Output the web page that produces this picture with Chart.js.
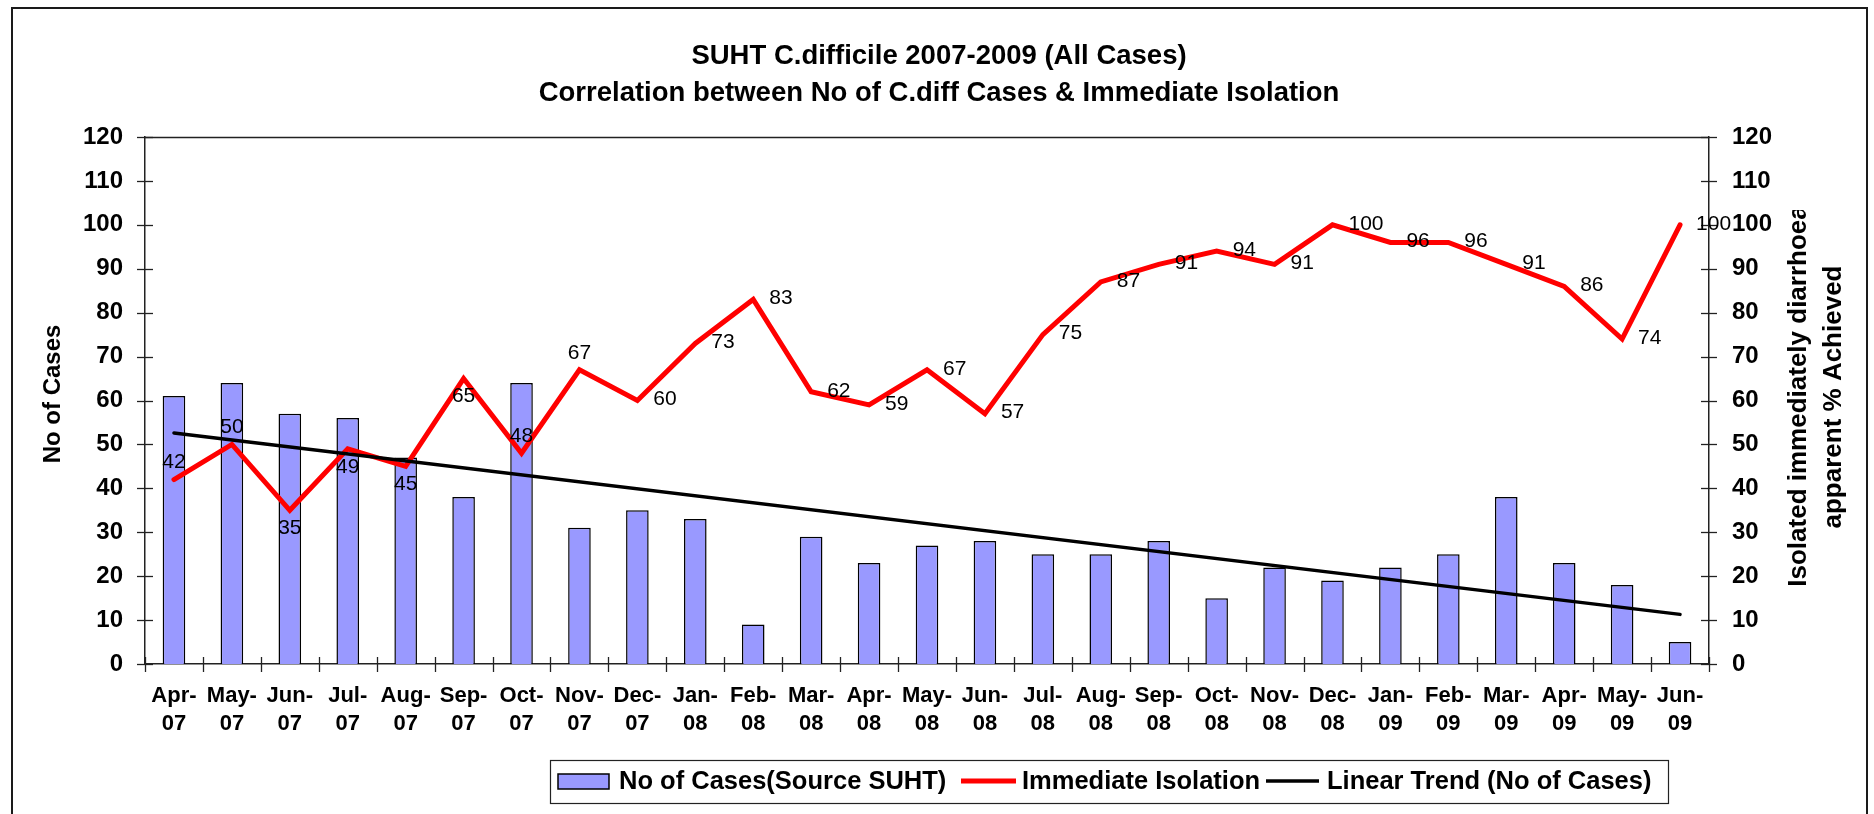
<!DOCTYPE html>
<html>
<head>
<meta charset="utf-8">
<script src="https://cdn.jsdelivr.net/npm/chart.js@4.4.1/dist/chart.umd.min.js"></script>
<style>
html,body{margin:0;padding:0;background:#fff;overflow:hidden}
#wrap{width:1874px;height:814px;position:relative}
canvas{display:block}
</style>
</head>
<body>
<div id="wrap"><canvas id="c" width="1874" height="814"></canvas></div>
<script>
// ---------- data ----------
const categories = ['Apr-07','May-07','Jun-07','Jul-07','Aug-07','Sep-07','Oct-07','Nov-07','Dec-07',
  'Jan-08','Feb-08','Mar-08','Apr-08','May-08','Jun-08','Jul-08','Aug-08','Sep-08','Oct-08','Nov-08','Dec-08',
  'Jan-09','Feb-09','Mar-09','Apr-09','May-09','Jun-09'];
const casesSUHT = [61,64,57,56,47,38,64,31,35,33,9,29,23,27,28,25,25,28,15,22,19,22,25,38,23,18,5];
const immediateIsolation = [42,50,35,49,45,65,48,67,60,73,83,62,59,67,57,75,87,91,94,91,100,96,96,91,86,74,100];
const trendStart = 52.6;   // linear trend value at Apr-07
const trendEnd = 11.3;     // linear trend value at Jun-09
const yTickValues = [0,10,20,30,40,50,60,70,80,90,100,110,120];
const titleLines = ['SUHT C.difficile 2007-2009 (All Cases)', 'Correlation between No of C.diff Cases & Immediate Isolation'];
const leftAxisTitle = 'No of Cases';
const rightAxisTitle = ['Isolated immediately diarrhoea', 'apparent % Achieved'];
const seriesNames = ['No of Cases(Source SUHT)', 'Immediate Isolation', 'Linear Trend (No of Cases)'];
const labelPlacement = ['above','above','below','below','below','below','above','above',
  'right','right','right','right','right','right','right','right','right','right','right','right','right',
  'right','right','right','right','right','right'];

// ---------- setup ----------
const FONT = "'Liberation Sans', Arial, Helvetica, sans-serif";
Chart.defaults.font.family = FONT;
const n = categories.length;
const trend = categories.map((_, i) => i === 0 ? trendStart : (i === n - 1 ? trendEnd : null));
const AXIS = '#222';

function seg(ctx, x1, y1, x2, y2) {
  ctx.beginPath(); ctx.moveTo(x1, y1); ctx.lineTo(x2, y2); ctx.stroke();
}

const decor = {
  id: 'decor',
  beforeDraw(chart) {
    const ctx = chart.ctx;
    ctx.save();
    ctx.fillStyle = '#fff';
    ctx.fillRect(0, 0, chart.width, chart.height);
    ctx.strokeStyle = '#1a1a1a';
    ctx.lineWidth = 2;
    ctx.strokeRect(12, 8, 1855, 900);
    ctx.restore();
  },
  afterDraw(chart) {
    const ctx = chart.ctx;
    const ca = chart.chartArea;
    const ys = chart.scales.y, y2 = chart.scales.y2, xs = chart.scales.x;
    ctx.save();

    // plot top line + cross ticks
    ctx.strokeStyle = AXIS;
    ctx.lineWidth = 1.3;
    seg(ctx, ca.left, Math.round(ca.top) + 0.5, ca.right, Math.round(ca.top) + 0.5);
    yTickValues.forEach(v => {
      const p1 = Math.round(ys.getPixelForValue(v)) + 0.5;
      seg(ctx, ca.left - 8, p1, ca.left + 8, p1);
      const p2 = Math.round(y2.getPixelForValue(v)) + 0.5;
      seg(ctx, ca.right - 8, p2, ca.right + 8, p2);
    });
    for (let i = 0; i <= n; i++) {
      let px;
      if (i === 0) px = ca.left;
      else if (i === n) px = ca.right;
      else px = (xs.getPixelForValue(i - 1) + xs.getPixelForValue(i)) / 2;
      px = Math.round(px) + 0.5;
      seg(ctx, px, ca.bottom - 7, px, ca.bottom + 8);
    }

    // data labels for Immediate Isolation
    const meta = chart.getDatasetMeta(1);
    ctx.fillStyle = '#000';
    ctx.font = '21px ' + FONT;
    ctx.textBaseline = 'middle';
    meta.data.forEach((pt, i) => {
      const txt = String(immediateIsolation[i]);
      const pos = labelPlacement[i];
      if (pos === 'above') { ctx.textAlign = 'center'; ctx.fillText(txt, pt.x, pt.y - 17); }
      else if (pos === 'below') { ctx.textAlign = 'center'; ctx.fillText(txt, pt.x, pt.y + 18); }
      else { ctx.textAlign = 'left'; ctx.fillText(txt, pt.x + 16, pt.y - 1); }
    });

    // titles
    ctx.font = 'bold 27.5px ' + FONT;
    ctx.textAlign = 'center';
    ctx.fillText(titleLines[0], 939, 56);
    ctx.fillText(titleLines[1], 939, 93);

    // left axis title
    ctx.save();
    ctx.font = 'bold 24px ' + FONT;
    ctx.translate(53, 394);
    ctx.rotate(-Math.PI / 2);
    ctx.fillText(leftAxisTitle, 0, 0);
    ctx.restore();

    // right axis title (first line clipped at top as in original)
    ctx.save();
    ctx.font = 'bold 26px ' + FONT;
    ctx.beginPath();
    ctx.rect(1760, 210, 100, 600);
    ctx.clip();
    ctx.save();
    ctx.translate(1798.5, 396);
    ctx.rotate(-Math.PI / 2);
    ctx.fillText(rightAxisTitle[0], 0, 0);
    ctx.restore();
    ctx.save();
    ctx.translate(1834, 397);
    ctx.rotate(-Math.PI / 2);
    ctx.fillText(rightAxisTitle[1], 0, 0);
    ctx.restore();
    ctx.restore();

    // legend
    const ds = chart.data.datasets;
    const ly = 782;
    ctx.font = 'bold 25.5px ' + FONT;
    ctx.textAlign = 'left';
    ctx.fillStyle = ds[2].backgroundColor;
    ctx.fillRect(558, 774, 51, 15);
    ctx.strokeStyle = '#000';
    ctx.lineWidth = 1.5;
    ctx.strokeRect(558, 774, 51, 15);
    ctx.fillStyle = '#000';
    ctx.fillText(seriesNames[0], 619, ly);
    ctx.strokeStyle = ds[1].borderColor;
    ctx.lineWidth = 5;
    seg(ctx, 961, 781, 1016, 781);
    ctx.fillText(seriesNames[1], 1022, ly);
    ctx.strokeStyle = ds[0].borderColor;
    ctx.lineWidth = 3.5;
    seg(ctx, 1266, 781, 1319, 781);
    ctx.fillText(seriesNames[2], 1327, ly);
    ctx.strokeStyle = '#222';
    ctx.lineWidth = 1.2;
    ctx.strokeRect(550.5, 760.5, 1118, 43);

    ctx.restore();
  }
};

const yTickFont = { size: 24, weight: 'bold' };

new Chart(document.getElementById('c'), {
  type: 'bar',
  data: {
    labels: categories,
    datasets: [
      { type: 'line', label: seriesNames[2], data: trend, yAxisID: 'y', borderColor: '#000000', borderWidth: 3.5,
        pointRadius: 0, spanGaps: true, order: 0, borderCapStyle: 'round' },
      { type: 'line', label: seriesNames[1], data: immediateIsolation, yAxisID: 'y2', borderColor: '#ff0000', borderWidth: 5,
        pointRadius: 0, tension: 0, order: 1, borderJoinStyle: 'miter', borderCapStyle: 'round' },
      { type: 'bar', label: seriesNames[0], data: casesSUHT, yAxisID: 'y', backgroundColor: '#9999ff', borderColor: '#000000',
        borderWidth: 1.5, categoryPercentage: 1, barPercentage: 0.39, order: 2 }
    ]
  },
  options: {
    responsive: false,
    animation: false,
    devicePixelRatio: 1,
    layout: { padding: { top: 137, left: 0, right: 0, bottom: 0 } },
    plugins: { legend: { display: false }, title: { display: false }, tooltip: { enabled: false } },
    scales: {
      x: {
        grid: { display: false, drawTicks: false },
        border: { display: true, color: AXIS, width: 1.5 },
        ticks: {
          autoSkip: false, maxRotation: 0, minRotation: 0, padding: 18, color: '#000',
          font: { size: 22, weight: 'bold', lineHeight: 1.27 },
          callback(v, i) { const s = categories[i]; const k = s.indexOf('-'); return [s.slice(0, k + 1), s.slice(k + 1)]; }
        },
        afterFit(s) { s.height = 150; }
      },
      y: {
        position: 'left', min: 0, max: 120,
        grid: { display: false, drawTicks: false },
        border: { display: true, color: AXIS, width: 1.5 },
        ticks: { padding: 22, color: '#000', font: yTickFont },
        afterBuildTicks(s) { s.ticks = yTickValues.map(v => ({ value: v })); },
        afterFit(s) { s.width = 145; }
      },
      y2: {
        position: 'right', min: 0, max: 120,
        grid: { display: false, drawTicks: false },
        border: { display: true, color: AXIS, width: 1.5 },
        ticks: { padding: 23, color: '#000', font: yTickFont },
        afterBuildTicks(s) { s.ticks = yTickValues.map(v => ({ value: v })); },
        afterFit(s) { s.width = 165; }
      }
    }
  },
  plugins: [decor]
});
</script>
</body>
</html>
